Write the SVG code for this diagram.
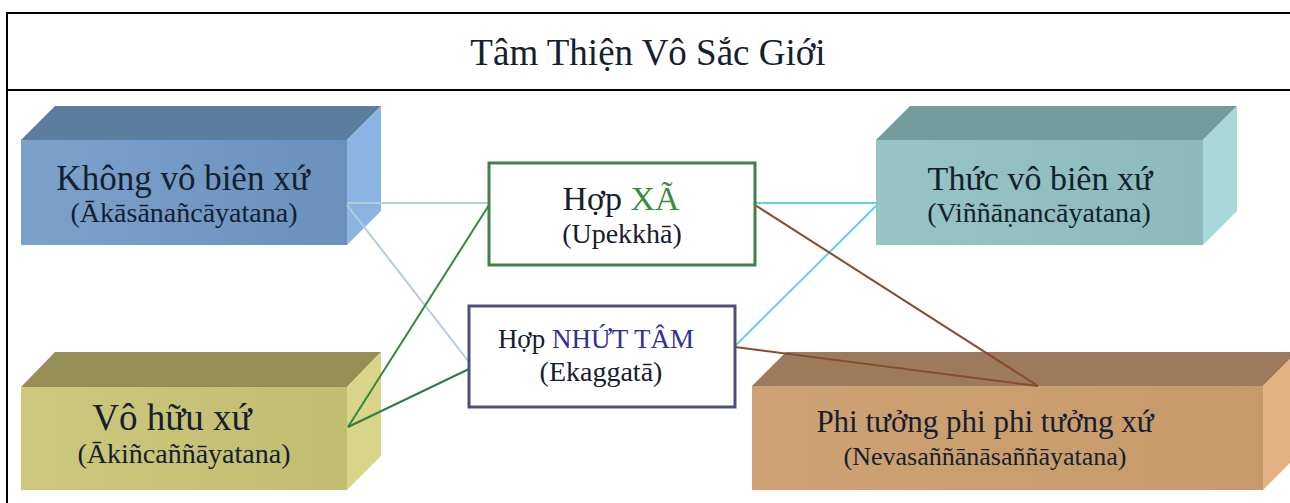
<svg xmlns="http://www.w3.org/2000/svg" width="1290" height="503" viewBox="0 0 1290 503">
<style>
  text { font-family: "Liberation Serif", "Times New Roman", serif; text-anchor: middle; fill: #15202e; }
  .frame { stroke: #000; stroke-width: 2; fill: none; }
  .conn { fill: none; stroke-width: 2; }
  .box { fill: #fff; stroke-width: 3; }
</style>
<defs>
  <linearGradient id="gBlue" x1="0" y1="0" x2="1" y2="0">
    <stop offset="0" stop-color="#7ca2cc"/><stop offset="1" stop-color="#6a91bc"/>
  </linearGradient>
  <linearGradient id="gTeal" x1="0" y1="0" x2="1" y2="0">
    <stop offset="0" stop-color="#97c4c4"/><stop offset="1" stop-color="#8cb9b9"/>
  </linearGradient>
  <linearGradient id="gOlive" x1="0" y1="0" x2="1" y2="0">
    <stop offset="0" stop-color="#ccc87c"/><stop offset="1" stop-color="#c2be70"/>
  </linearGradient>
  <linearGradient id="gTan" x1="0" y1="0" x2="1" y2="0">
    <stop offset="0" stop-color="#cea274"/><stop offset="1" stop-color="#c69a6a"/>
  </linearGradient>
</defs>
<rect width="1290" height="503" fill="#fff"/>

<g id="frame">
  <line class="frame" x1="7" y1="13" x2="1290" y2="13"/>
  <line class="frame" x1="7" y1="90" x2="1290" y2="90"/>
  <line class="frame" x1="7" y1="12" x2="7" y2="503"/>
</g>

<g id="title">
  <text x="648" y="65" font-size="37" fill="#000">Tâm Thiện Vô Sắc Giới</text>
</g>

<g id="khong-vo-bien-xu">
  <polygon points="21,140 55,106 381,106 347,140" fill="#5d7d9e"/>
  <polygon points="347,140 381,106 381,211 347,245" fill="#8ab5e2"/>
  <rect x="21" y="140" width="326" height="105" fill="url(#gBlue)"/>
  <text x="183" y="190" font-size="35">Không vô biên xứ</text>
  <text x="184" y="222" font-size="28">(Ākāsānañcāyatana)</text>
</g>

<g id="thuc-vo-bien-xu">
  <polygon points="876,140 910,106 1237,106 1203,140" fill="#729c9c"/>
  <polygon points="1203,140 1237,106 1237,211 1203,245" fill="#a9d8d8"/>
  <rect x="876" y="140" width="327" height="105" fill="url(#gTeal)"/>
  <text x="1040" y="190" font-size="34">Thức vô biên xứ</text>
  <text x="1039" y="222" font-size="28">(Viññāṇancāyatana)</text>
</g>

<g id="vo-huu-xu">
  <polygon points="21,387 55,352 381,352 347,387" fill="#958f56"/>
  <polygon points="347,387 381,352 381,456 347,490" fill="#d9d588"/>
  <rect x="21" y="387" width="326" height="103" fill="url(#gOlive)"/>
  <text x="172" y="430" font-size="37">Vô hữu xứ</text>
  <text x="184" y="463" font-size="28">(Ākiñcaññāyatana)</text>
</g>

<g id="phi-tuong-xu">
  <polygon points="752,386 786,352 1297,352 1263,386" fill="#9c7b5d"/>
  <polygon points="1263,386 1297,352 1297,456 1263,490" fill="#e3b182"/>
  <rect x="752" y="386" width="511" height="104" fill="url(#gTan)"/>
  <text x="985" y="432" font-size="31">Phi tưởng phi phi tưởng xứ</text>
  <text x="985" y="465" font-size="26">(Nevasaññānāsaññāyatana)</text>
</g>

<g id="connectors">
  <line class="conn" stroke="#b4cbe0" x1="347" y1="203" x2="489" y2="203"/>
  <line class="conn" stroke="#b4cbe0" x1="347" y1="205" x2="469" y2="362"/>
  <line class="conn" stroke="#2f8a3c" x1="489" y1="205" x2="348" y2="427"/>
  <line class="conn" stroke="#2f7a45" x1="469" y1="369" x2="348" y2="427"/>
  <line class="conn" stroke="#5cd6da" x1="755" y1="203" x2="877" y2="203"/>
  <line class="conn" stroke="#5cd6da" x1="735" y1="346" x2="877" y2="205"/>
  <line class="conn" stroke="#8a4a2c" x1="755" y1="205" x2="1038" y2="386"/>
  <line class="conn" stroke="#8a4a2c" x1="735" y1="347" x2="1038" y2="386"/>
</g>

<g id="hop-xa">
  <rect class="box" x="489" y="163" width="266" height="102" stroke="#44804a"/>
  <text x="621" y="210" font-size="34">Hợp <tspan fill="#3a8c3e">XÃ</tspan></text>
  <text x="622" y="243" font-size="28">(Upekkhā)</text>
</g>

<g id="hop-nhut-tam">
  <rect class="box" x="469" y="306" width="266" height="101" stroke="#4e4e7c"/>
  <text x="596" y="348" font-size="27">Hợp <tspan fill="#2f2f9a">NHỨT TÂM</tspan></text>
  <text x="601" y="381" font-size="28">(Ekaggatā)</text>
</g>
</svg>
